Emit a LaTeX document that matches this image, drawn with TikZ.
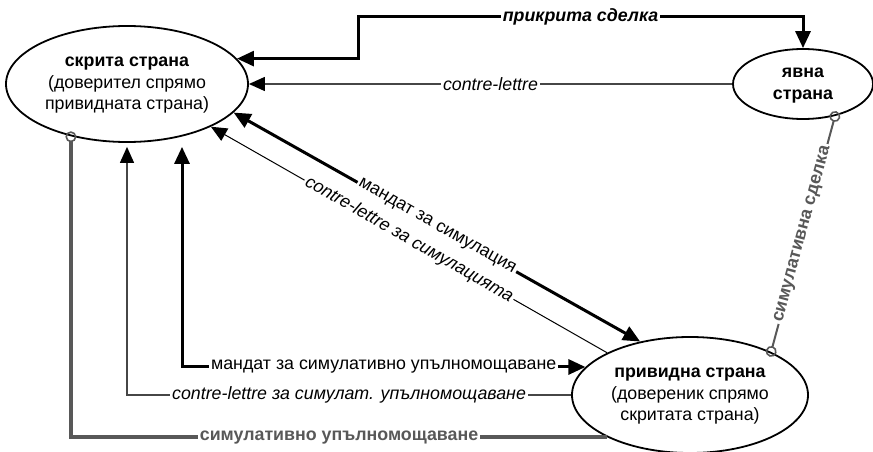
\documentclass[tikz,border=0pt]{standalone}
\usepackage{fontspec}
\setmainfont{Liberation Sans}
\usetikzlibrary{arrows.meta,shapes.geometric}
\definecolor{simgray}{RGB}{88,88,88}
\definecolor{cgray}{RGB}{70,70,70}
\newcommand{\ptext}[1]{\makebox[0pt]{\begin{tabular}{@{}c@{}}#1\end{tabular}}}

\begin{document}
\begin{tikzpicture}[x=1pt, y=-1pt, font=\fontsize{17.8}{21.5}\selectfont]
\tikzstyle{v} = [ellipse, draw=black, line width=1.8pt, inner sep=0pt]
\tikzstyle{e} = [draw=black, line width=3pt]
\tikzstyle{et} = [draw=black, line width=1pt]
\tikzstyle{ec} = [draw=cgray, line width=1.3pt]
\tikzstyle{es} = [draw=simgray, line width=4pt]
\tikzstyle{eg} = [draw=simgray, line width=2pt]
\tikzstyle{arr} = [-{Triangle[length=16pt,width=14pt,black]}]
\tikzstyle{arrs} = [{Triangle[length=17pt,width=15pt]}-{Triangle[length=17pt,width=15pt]}]
\tikzstyle{circ} = [-{Circle[open,length=11pt,width=11pt,line width=1.6pt]}, shorten >=-5pt]
\tikzstyle{circs} = [{Circle[open,length=11pt,width=11pt,line width=1.6pt]}-{Circle[open,length=11pt,width=11pt,line width=1.6pt]}, shorten >=-5pt, shorten <=-5pt]
\tikzstyle{lb} = [fill=white, inner sep=2pt]

\useasboundingbox (0,0) rectangle (873,452);

\node[v, minimum width=242pt, minimum height=116pt] (sk) at (127,84) {\ptext{\textbf{скрита страна}\\(доверител спрямо\\привидната страна)}};
\node[v, minimum width=140pt, minimum height=70pt] (yav) at (803,84) {\ptext{\textbf{явна}\\\textbf{страна}}};
\node[v, minimum width=236pt, minimum height=116pt] (pr) at (690,395) {\ptext{\textbf{привидна страна}\\(довереник спрямо\\скритата страна)}};

\coordinate (bend) at (358,17);

\draw[e, arrs] (sk.13) -| (bend) -- node[lb]{\textbf{\textit{прикрита сделка}}} (bend -| yav.north) -- (yav.north);
\draw[ec, arr] (yav.west) -- node[lb]{\textit{contre-lettre}} (sk.east);
\draw[e, arrs] (sk.-15) -- node[lb, sloped]{мандат за симулация} (pr.133);
\draw[et, arr] (pr.153) -- node[lb, sloped]{\textit{contre-lettre за симулацията}} (sk.-27);
\draw[e, arrs] (pr.165) -| node[lb, pos=0.25]{мандат за симулативно упълномощаване} ([xshift=55pt, yshift=-4pt]sk.south);
\draw[ec, arr] (pr.west) -| node[lb, pos=0.25]{\textit{contre-lettre за симулат. упълномощаване}} ([yshift=-4pt]sk.south);
\draw[es, circ] (pr.207) -| node[lb, pos=0.25, text=simgray]{\textbf{симулативно упълномощаване}} (sk.223);
\draw[eg, circs] (yav.-45) -- node[lb, sloped, text=simgray]{\textbf{симулативна сделка}} (pr.28);
\end{tikzpicture}
\end{document}
